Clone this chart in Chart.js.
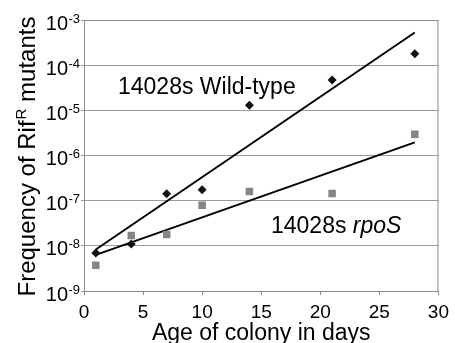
<!DOCTYPE html>
<html lang="en">
<head>
<meta charset="UTF-8">
<title>Frequency of RifR mutants</title>
<script src="https://cdn.jsdelivr.net/npm/chart.js@4.4.0/dist/chart.umd.min.js"></script>
<style>
    body { margin: 0; background: #fff; }
    canvas { display: block; }
</style>
</head>
<body>
<canvas id="myChart" width="455" height="343"></canvas>
<script>
// giorni di campionamento
var days = [1, 4, 7, 10, 14, 21, 28];
// frequenze
var wildType = [6.9e-9, 1.1e-8, 1.43e-7, 1.75e-7, 1.3e-5, 4.7e-5, 1.78e-4];
var rpoS = [3.7e-9, 1.7e-8, 1.78e-8, 7.9e-8, 1.6e-7, 1.44e-7, 2.95e-6];
// estremi delle linee di tendenza
var trendDays = [1, 28];
var wildTrend = [8.3e-9, 5.3e-4];
var rpoSTrend = [6.3e-9, 1.95e-6];
// etichette assi
var xTicks = [0, 5, 10, 15, 20, 25, 30];
var yExponents = [-9, -8, -7, -6, -5, -4, -3];

var FONT = '"Liberation Sans", Arial, sans-serif';

function toPoints(xs, ys) {
    var pts = [];
    for (var i = 0; i < xs.length; i++) pts.push({x: xs[i], y: ys[i]});
    return pts;
}

// disegna testi con apici e cornice
const textPlugin = {
    id: 'textPlugin',
    afterDraw(chart) {
        const ctx = chart.ctx;
        const a = chart.chartArea;
        const y = chart.scales.y;
        ctx.save();
        // cornice
        ctx.strokeStyle = '#8c8c8c';
        ctx.lineWidth = 1;
        ctx.strokeRect(a.left + 0.5, a.top + 0.5, a.right - a.left - 1, a.bottom - a.top);

        ctx.fillStyle = '#000';
        // etichette asse y
        yExponents.forEach(function (e) {
            var py = y.getPixelForValue(Math.pow(10, e));
            ctx.font = '20px ' + FONT;
            ctx.textAlign = 'right';
            ctx.textBaseline = 'alphabetic';
            ctx.fillText('10', 68, py + 9.5);
            ctx.font = '13px ' + FONT;
            ctx.textAlign = 'left';
            ctx.fillText(String(e), 68.5, py + 2.5);
        });

        // titolo asse x
        ctx.font = '23px ' + FONT;
        ctx.textAlign = 'center';
        ctx.fillText('Age of colony in days', (a.left + a.right) / 2, 340);

        // titolo asse y con apice
        ctx.save();
        ctx.translate(35, 157);
        ctx.rotate(-Math.PI / 2);
        var p1 = 'Frequency of Rif', p2 = 'R', p3 = ' mutants';
        ctx.font = '24px ' + FONT;
        var w1 = ctx.measureText(p1).width, w3 = ctx.measureText(p3).width;
        ctx.font = '15px ' + FONT;
        var w2 = ctx.measureText(p2).width;
        var sx = -(w1 + w2 + w3) / 2;
        ctx.textAlign = 'left';
        ctx.font = '24px ' + FONT;
        ctx.fillText(p1, sx, 0);
        ctx.font = '15px ' + FONT;
        ctx.fillText(p2, sx + w1 + 1, -9);
        ctx.font = '24px ' + FONT;
        ctx.fillText(p3, sx + w1 + w2 + 1, 0);
        ctx.restore();

        // etichette serie
        ctx.font = '23px ' + FONT;
        ctx.textAlign = 'left';
        ctx.textBaseline = 'middle';
        ctx.fillText('14028s Wild-type', 118, 88);
        var wa = ctx.measureText('14028s ').width;
        ctx.fillText('14028s ', 271, 227);
        ctx.font = 'italic 23px ' + FONT;
        ctx.fillText('rpoS', 271 + wa, 227);
        ctx.restore();
    }
};

const config = {
    type: 'scatter',
    data: {
        datasets: [{
            label: '14028s Wild-type',
            data: toPoints(days, wildType),
            pointStyle: 'rectRot',
            pointRadius: 4.5,
            backgroundColor: '#111',
            borderColor: '#111',
            borderWidth: 0,
            order: 0
        }, {
            label: '14028s rpoS',
            data: toPoints(days, rpoS),
            pointStyle: 'rect',
            pointRadius: 5.3,
            backgroundColor: '#858585',
            borderColor: '#858585',
            borderWidth: 0,
            order: 1
        }, {
            label: 'Wild-type trend',
            data: toPoints(trendDays, wildTrend),
            showLine: true,
            pointRadius: 0,
            borderColor: '#000',
            borderWidth: 2,
            order: 2
        }, {
            label: 'rpoS trend',
            data: toPoints(trendDays, rpoSTrend),
            showLine: true,
            pointRadius: 0,
            borderColor: '#000',
            borderWidth: 2,
            order: 3
        }]
    },
    options: {
        responsive: false,
        animation: false,
        layout: { padding: { top: 20, right: 16, left: 0, bottom: 0 } },
        plugins: { legend: { display: false }, tooltip: { enabled: false } },
        scales: {
            x: {
                type: 'linear',
                min: 0,
                max: 30,
                afterFit: function (s) { s.height = 52; },
                afterBuildTicks: function (s) { s.ticks = xTicks.map(function (v) { return {value: v}; }); },
                grid: { drawOnChartArea: false, drawTicks: true, tickLength: 4, color: '#8c8c8c' },
                border: { color: '#8c8c8c' },
                ticks: { color: '#000', font: { family: FONT, size: 19 }, padding: 6, maxRotation: 0 }
            },
            y: {
                type: 'logarithmic',
                min: 1e-9,
                max: 1e-3,
                afterFit: function (s) { s.width = 84; },
                afterBuildTicks: function (s) { s.ticks = yExponents.map(function (e) { return {value: Math.pow(10, e)}; }); },
                grid: { color: '#9a9a9a', drawTicks: true, tickLength: 3 },
                border: { color: '#8c8c8c' },
                ticks: { display: false }
            }
        }
    },
    plugins: [textPlugin]
};

var myChart = new Chart(document.getElementById('myChart'), config);
</script>
</body>
</html>
